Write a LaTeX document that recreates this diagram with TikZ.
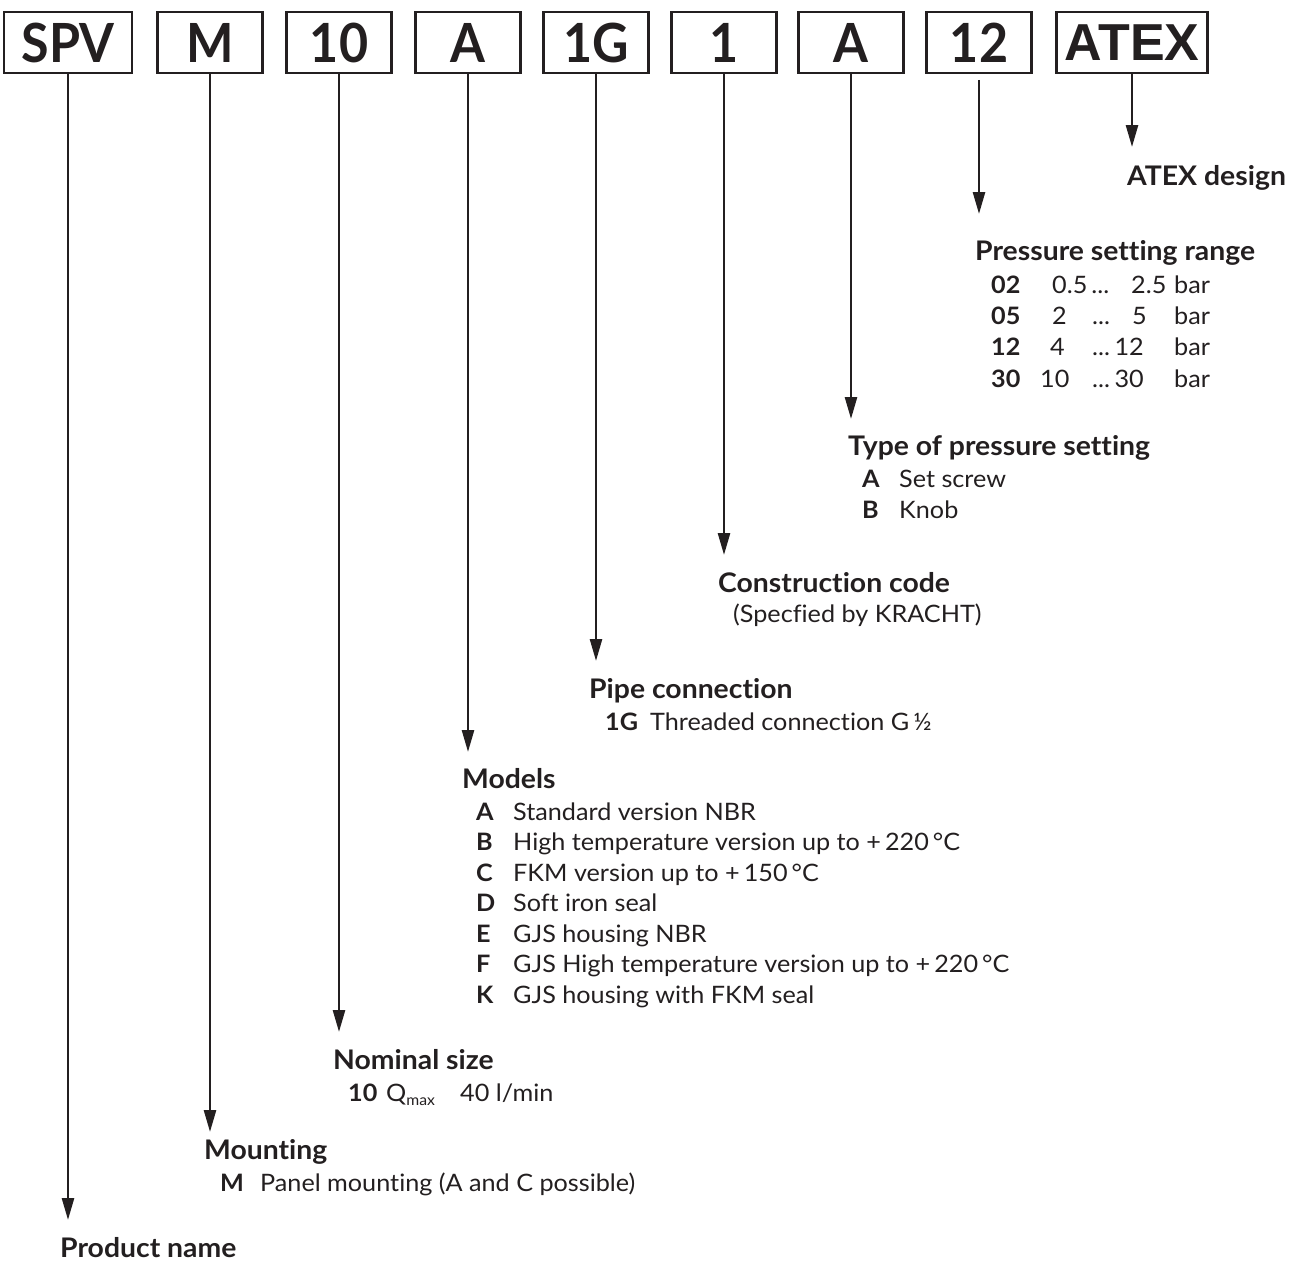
\documentclass[tikz,border=0pt]{standalone}
\usepackage{fontspec}
\setmainfont{Lato}[FakeStretch=1.05, Ligatures=NoCommon]
\newfontfamily\codefont{Lato}[FakeStretch=0.93]
\newfontfamily\boxfont{Liberation Sans}
\usetikzlibrary{arrows.meta}
\definecolor{ink}{HTML}{231F20}
\begin{document}
\begin{tikzpicture}[x=1pt,y=-1pt,
  codebox/.style={draw=ink, line width=2.4pt, minimum width=105pt, minimum height=61pt, inner sep=0pt, font=\codefont\fontsize{54}{54}\selectfont\bfseries, text=ink},
  lead/.style={draw=ink, line width=2.6pt, -{Triangle[length=22pt,width=12pt]}},
  head/.style={anchor=base west, inner sep=0pt, font=\fontsize{27}{27}\selectfont\bfseries, text=ink},
  item/.style={anchor=base west, inner sep=0pt, font=\fontsize{24}{24}\selectfont, text=ink},
  itemr/.style={anchor=base east, inner sep=0pt, font=\fontsize{24}{24}\selectfont, text=ink},
  key/.style={anchor=base west, inner sep=0pt, font=\fontsize{24}{24}\selectfont\bfseries, text=ink},
]
\useasboundingbox (0,0) rectangle (1296,1263);
% code boxes
\node[codebox, minimum width=128pt] (spv) at (68,42.5) {SPV};
\node[codebox] (m) at (210,42.5) {M};
\node[codebox] (ten) at (339,42.5) {10};
\node[codebox] (a1) at (468,42.5) {A};
\node[codebox] (g) at (596,42.5) {1G};
\node[codebox] (one) at (724,42.5) {1};
\node[codebox] (a2) at (851,42.5) {A};
\node[codebox] (twelve) at (979,42.5) {12};
\node[codebox, minimum width=151pt, font=\boxfont\fontsize{52}{52}\selectfont\bfseries] (atex) at (1132,42.5) {ATEX};
% arrow ends
\coordinate (spvEnd) at (68,1220);
\coordinate (mEnd) at (210,1132);
\coordinate (tenEnd) at (339,1032);
\coordinate (a1End) at (468,752);
\coordinate (gEnd) at (596,661);
\coordinate (oneEnd) at (724,555);
\coordinate (a2End) at (851,419);
\coordinate (twStart) at (979,80);
\coordinate (twEnd) at (979,214);
\coordinate (atexEnd) at (1132,147);
\draw[lead] (spv.south) -- (spvEnd);
\draw[lead] (m.south) -- (mEnd);
\draw[lead] (ten.south) -- (tenEnd);
\draw[lead] (a1.south) -- (a1End);
\draw[lead] (g.south) -- (gEnd);
\draw[lead] (one.south) -- (oneEnd);
\draw[lead] (a2.south) -- (a2End);
\draw[lead] (twStart) -- (twEnd);
\draw[lead] (atex.south) -- (atexEnd);
% ATEX
\node[head] (hAtex) at (1127,185) {ATEX design};
% Pressure range
\node[head] (hRange) at (975,260) {Pressure setting range};
\node[key] (r1k) at (991,293) {02};
\node[key] (r2k) at (991,324) {05};
\node[key] (r3k) at (991,355) {12};
\node[key] (r4k) at (991,387) {30};
\node[item] (r1a) at (1052,293) {0.5\,...};
\node[item] (r1b) at (1131,293) {2.5};
\node[item] (r2a) at (1052,324) {2};
\node[item] (r2c) at (1092,324) {...};
\node[item] (r2b) at (1132,324) {5};
\node[item] (r3a) at (1050,355) {4};
\node[item] (r3c) at (1092,355) {...};
\node[itemr] (r3b) at (1144,355) {12};
\node[item] (r4a) at (1040,387) {10};
\node[item] (r4c) at (1092,387) {...};
\node[itemr] (r4b) at (1144,387) {30};
\node[item] (r1u) at (1174,293) {bar};
\node[item] (r2u) at (1174,324) {bar};
\node[item] (r3u) at (1174,355) {bar};
\node[item] (r4u) at (1174,387) {bar};
% Type of pressure setting
\node[head] (hType) at (848,455) {Type of pressure setting};
\node[key] (tAk) at (862,487) {A};
\node[item] (tA) at (899,487) {Set screw};
\node[key] (tBk) at (862,518) {B};
\node[item] (tB) at (899,518) {Knob};
% Construction code
\node[head] (hCons) at (718,592) {Construction code};
\node[item] (cons) at (733,622) {(Specfied by KRACHT)};
% Pipe connection
\node[head] (hPipe) at (589,698) {Pipe connection};
\node[key] (p1k) at (605,730) {1G};
\node[item] (p1) at (650,730) {Threaded connection G\,½};
% Models
\node[head] (hMod) at (462,788) {Models};
\node[key] (mAk) at (476,820) {A};
\node[item] (mA) at (513,820) {Standard version NBR};
\node[key] (mBk) at (476,850.5) {B};
\node[item] (mB) at (513,850.5) {High temperature version up to +\,220\,°C};
\node[key] (mCk) at (476,881) {C};
\node[item] (mC) at (513,881) {FKM version up to +\,150\,°C};
\node[key] (mDk) at (476,911.5) {D};
\node[item] (mD) at (513,911.5) {Soft iron seal};
\node[key] (mEk) at (476,942) {E};
\node[item] (mE) at (513,942) {GJS housing NBR};
\node[key] (mFk) at (476,972.5) {F};
\node[item] (mF) at (513,972.5) {GJS High temperature version up to +\,220\,°C};
\node[key] (mKk) at (476,1003) {K};
\node[item] (mK) at (513,1003) {GJS housing with FKM seal};
% Nominal size
\node[head] (hNom) at (333,1069) {Nominal size};
\node[key] (n1k) at (348,1101) {10};
\node[item] (n1q) at (386,1101) {Q\raisebox{-4pt}{\fontsize{15}{15}\selectfont max}};
\node[item] (n1) at (460,1101) {40 l/min};
% Mounting
\node[head] (hMount) at (204,1159) {Mounting};
\node[key] (mMk) at (220,1191) {M};
\node[item] (mM) at (260,1191) {Panel mounting (A and C possible)};
% Product name
\node[head] (hProd) at (60,1257) {Product name};
\end{tikzpicture}
\end{document}
